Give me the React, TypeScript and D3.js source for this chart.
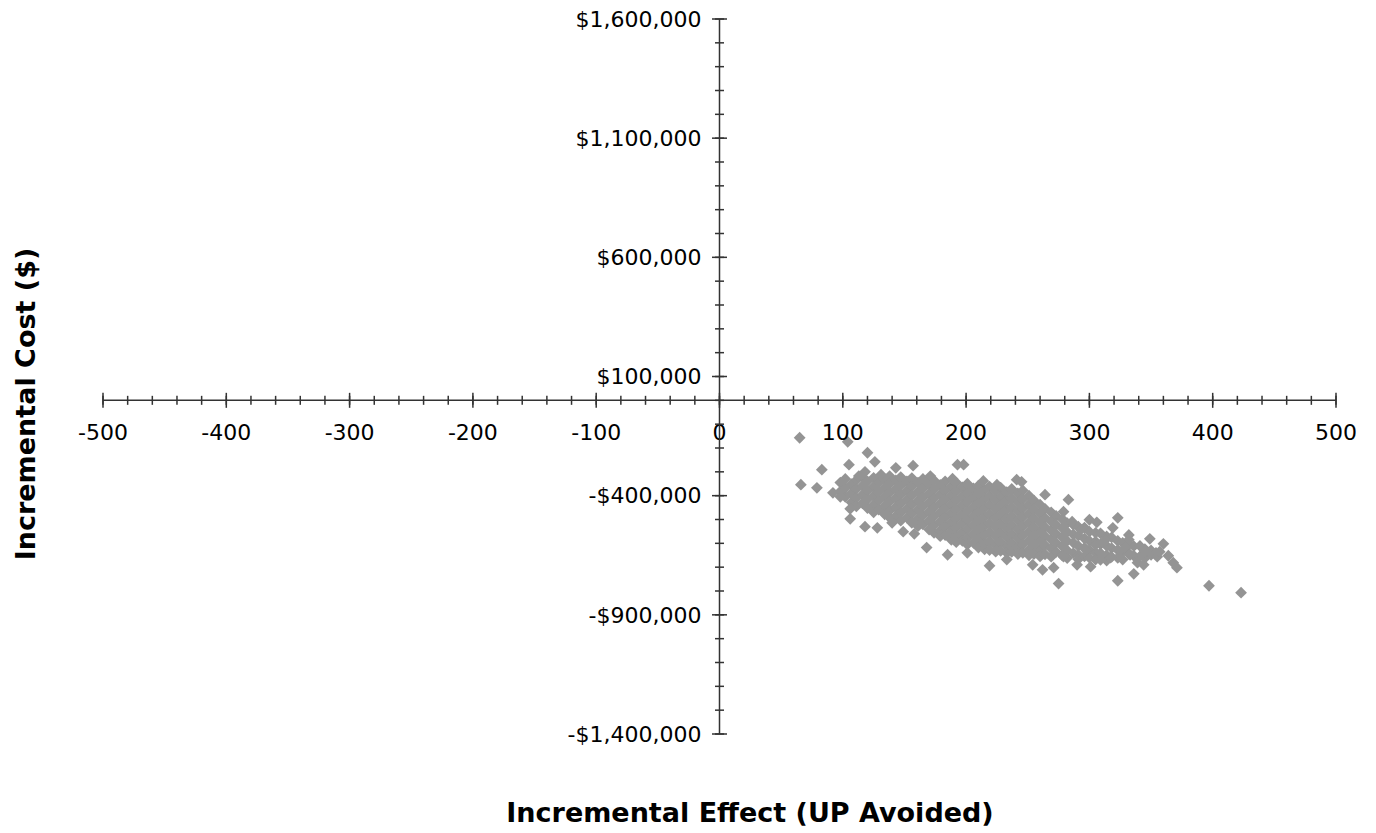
import React from 'react';
import * as d3 from 'd3';

const W = 1376;
const H = 833;

const effectDomain = [-500, 500];
const costDomain = [-1400000, 1600000];

const effectMajorTicks = [-500, -400, -300, -200, -100, 0, 100, 200, 300, 400, 500];
const costMajorTicks = [1600000, 1100000, 600000, 100000, -400000, -900000, -1400000];
const costTickLabels = ['$1,600,000', '$1,100,000', '$600,000', '$100,000', '-$400,000', '-$900,000', '-$1,400,000'];

// scattered simulation draws: [incremental effect, incremental cost in $1000s]
const sparseDraws: [number, number][] = [
  [65, -157], [104, -174], [120, -220], [126, -258], [105, -270], [83, -291],
  [66, -354], [79, -367], [92, -388], [98, -405], [106, -455], [106, -497],
  [118, -530], [128, -535], [118, -300], [143, -283], [157, -274], [193, -270],
  [198, -270], [189, -329], [168, -618], [185, -648], [219, -694], [149, -551],
  [140, -514], [225, -354], [241, -333], [245, -342], [264, -396], [283, -417],
  [279, -467], [323, -493], [319, -535], [349, -581], [360, -602], [368, -681],
  [371, -702], [275, -769], [323, -757], [336, -728], [397, -778], [423, -807],
  [254, -690], [262, -711], [271, -702], [279, -656], [301, -698], [355, -656],
  [339, -681], [113, -318], [131, -312], [171, -318], [214, -338], [306, -512],
  [332, -565], [344, -690], [290, -690], [233, -668], [201, -640], [158, -560],
  [293, -543], [305, -606], [313, -585], [329, -618], [333, -648], [345, -635],
  [297, -627], [317, -660], [332, -585], [357, -635], [364, -652], [286, -509],
  [300, -501], [309, -669],
];

// dense core of the cloud, read column by column: [effect, costs in $1000s]
const coreColumns: [number, number[]][] = [
  [98, [-345, -382]],
  [102, [-330, -368, -405]],
  [107, [-352, -390, -428]],
  [111, [-335, -372, -410, -445]],
  [116, [-322, -358, -396, -432]],
  [120, [-340, -378, -415, -452]],
  [125, [-325, -362, -400, -438, -470]],
  [129, [-345, -384, -420, -458]],
  [134, [-330, -366, -404, -442, -478]],
  [138, [-318, -350, -388, -425, -462, -492]],
  [143, [-336, -372, -410, -448, -485]],
  [147, [-322, -356, -394, -432, -470, -505]],
  [152, [-340, -378, -416, -454, -492]],
  [156, [-326, -362, -400, -438, -476, -514]],
  [161, [-345, -384, -422, -460, -498, -528]],
  [165, [-330, -368, -406, -444, -482, -520]],
  [170, [-350, -390, -428, -466, -504, -542]],
  [174, [-336, -372, -410, -448, -486, -524, -556]],
  [179, [-355, -394, -432, -470, -508, -546, -570]],
  [183, [-340, -378, -416, -454, -492, -530, -565]],
  [188, [-360, -398, -436, -474, -512, -550, -585]],
  [192, [-345, -382, -420, -458, -496, -534, -572, -595]],
  [197, [-365, -402, -440, -478, -516, -554, -590]],
  [201, [-350, -388, -426, -464, -502, -540, -578, -605]],
  [206, [-370, -408, -446, -484, -522, -560, -598]],
  [210, [-358, -394, -432, -470, -508, -546, -584, -618]],
  [215, [-375, -412, -450, -488, -526, -564, -602, -625]],
  [219, [-362, -400, -438, -476, -514, -552, -590, -628]],
  [224, [-380, -418, -456, -494, -532, -570, -608, -635]],
  [228, [-366, -404, -442, -480, -518, -556, -594, -632]],
  [233, [-385, -422, -460, -498, -536, -574, -612, -640]],
  [237, [-372, -410, -448, -486, -524, -562, -600, -636]],
  [242, [-390, -428, -466, -504, -542, -580, -618, -645]],
  [246, [-378, -414, -452, -490, -528, -566, -604, -640]],
  [251, [-400, -436, -474, -512, -550, -588, -626, -650]],
  [255, [-420, -458, -496, -534, -572, -610, -645]],
  [260, [-438, -476, -514, -552, -590, -628, -655]],
  [264, [-455, -494, -532, -570, -608, -646]],
  [269, [-470, -508, -546, -584, -622, -656]],
  [273, [-485, -522, -560, -598, -636]],
  [278, [-498, -536, -574, -612, -650]],
  [282, [-515, -552, -590, -630, -662]],
  [287, [-522, -563, -598, -641]],
  [291, [-530, -568, -611, -648, -667]],
  [296, [-534, -580, -619, -655]],
  [300, [-551, -590, -628, -660]],
  [305, [-556, -592, -638, -668]],
  [309, [-558, -604, -641]],
  [314, [-571, -611, -650, -672]],
  [318, [-575, -620, -657]],
  [323, [-590, -628, -661]],
  [327, [-598, -636, -668]],
  [332, [-605, -644]],
  [336, [-612, -652]],
  [341, [-611, -655]],
  [345, [-624, -662]],
  [350, [-630, -648]],
  [354, [-640]],
];

const FONT = 'DejaVu Sans, Verdana, sans-serif';
const AXIS = '#333';
const MARK = '#949494';

export default function App() {
  const x = d3.scaleLinear().domain(effectDomain).range([103, 1336]);
  const y = d3.scaleLinear().domain(costDomain).range([734, 19]);

  // all draws, cost back to dollars
  const draws: [number, number][] = [
    ...coreColumns.flatMap(([e, cs]) => cs.map(c => [e, c * 1000] as [number, number])),
    ...sparseDraws.map(([e, c]) => [e, c * 1000] as [number, number]),
  ];

  const x0 = x(0);
  const y0 = y(0);
  const effectMinor = d3.range(-500, 501, 20);
  const costMinor = d3.range(-1400000, 1600001, 100000);
  const r = 5.9;
  const diamond = `M0,${-r}L${r},0L0,${r}L${-r},0Z`;

  return (
    <div style={{ position: 'absolute', left: 0, top: 0 }}>
      <svg width={W} height={H} style={{ display: 'block', background: '#fff' }}>
        {/* points */}
        <g fill={MARK}>
          {draws.map(([e, c], i) => (
            <path key={i} d={diamond} transform={`translate(${x(e)},${y(c)})`} />
          ))}
        </g>

        {/* x axis */}
        <g stroke={AXIS} strokeWidth={1.5}>
          <line x1={x(-500)} x2={x(500)} y1={y0} y2={y0} />
          {effectMinor.map(t => (
            <line key={'xm' + t} x1={x(t)} x2={x(t)} y1={y0 - 4.5} y2={y0 + 4.5} />
          ))}
          {effectMajorTicks.map(t => (
            <line key={'xM' + t} x1={x(t)} x2={x(t)} y1={y0 - 7.5} y2={y0 + 7.5} />
          ))}
        </g>
        <g fontFamily={FONT} fontSize={22} fill="#000" textAnchor="middle">
          {effectMajorTicks.map(t => (
            <text key={'xl' + t} x={x(t)} y={y0 + 40}>{t}</text>
          ))}
        </g>

        {/* y axis */}
        <g stroke={AXIS} strokeWidth={1.5}>
          <line x1={x0} x2={x0} y1={y(1600000)} y2={y(-1400000)} />
          {costMinor.map(t => (
            <line key={'ym' + t} x1={x0 - 4.5} x2={x0 + 4.5} y1={y(t)} y2={y(t)} />
          ))}
          {costMajorTicks.map(t => (
            <line key={'yM' + t} x1={x0 - 7.5} x2={x0 + 7.5} y1={y(t)} y2={y(t)} />
          ))}
        </g>
        <g fontFamily={FONT} fontSize={22} fill="#000" textAnchor="end">
          {costMajorTicks.map((t, i) => (
            <text key={'yl' + t} x={x0 - 18} y={y(t)} dy="0.35em">
              {costTickLabels[i]}
            </text>
          ))}
        </g>

        {/* titles */}
        <text x={750} y={822} textAnchor="middle" fontFamily={FONT} fontWeight="bold" fontSize={27}>
          Incremental Effect (UP Avoided)
        </text>
        <text
          transform="translate(35,404) rotate(-90)"
          textAnchor="middle"
          fontFamily={FONT}
          fontWeight="bold"
          fontSize={27}
        >
          Incremental Cost ($)
        </text>
      </svg>
    </div>
  );
}
